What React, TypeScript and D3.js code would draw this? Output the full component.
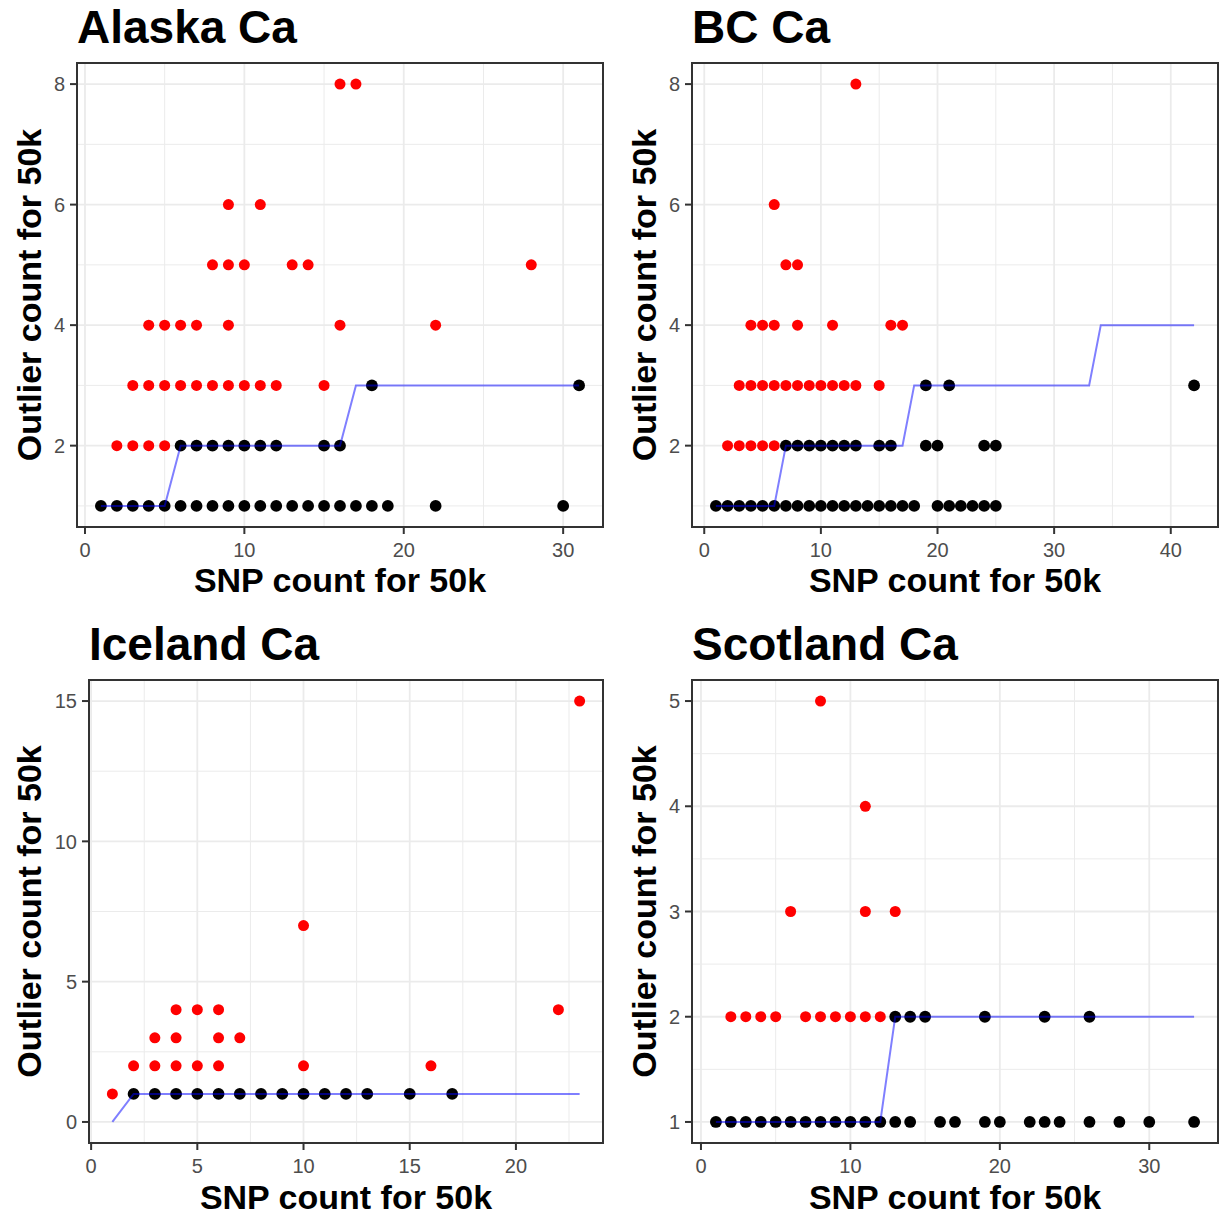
import React from "react";
import * as d3 from "d3";

type P = [number, number];

// ---------- Alaska ----------
const alaskaBlack: P[] = [
  [1,1],[2,1],[3,1],[4,1],[5,1],[6,1],[7,1],[8,1],[9,1],[10,1],[11,1],[12,1],[13,1],[14,1],[15,1],[16,1],[17,1],[18,1],[19,1],[22,1],[30,1],
  [6,2],[7,2],[8,2],[9,2],[10,2],[11,2],[12,2],[15,2],[16,2],
  [18,3],[31,3],
];
const alaskaRed: P[] = [
  [2,2],[3,2],[4,2],[5,2],
  [3,3],[4,3],[5,3],[6,3],[7,3],[8,3],[9,3],[10,3],[11,3],[12,3],[15,3],
  [4,4],[5,4],[6,4],[7,4],[9,4],[16,4],[22,4],
  [8,5],[9,5],[10,5],[13,5],[14,5],[28,5],
  [9,6],[11,6],
  [16,8],[17,8],
];
const alaskaLine: P[] = [[1,1],[5,1],[6,2],[16,2],[17,3],[31,3]];
const alaskaXTicks = [0, 10, 20, 30];
const alaskaYTicks = [2, 4, 6, 8];

// ---------- BC ----------
const bcBlack: P[] = [
  [1,1],[2,1],[3,1],[4,1],[5,1],[6,1],[7,1],[8,1],[9,1],[10,1],[11,1],[12,1],[13,1],[14,1],[15,1],[16,1],[17,1],[18,1],[20,1],[21,1],[22,1],[23,1],[24,1],[25,1],
  [7,2],[8,2],[9,2],[10,2],[11,2],[12,2],[13,2],[15,2],[16,2],[19,2],[20,2],[24,2],[25,2],
  [19,3],[21,3],[42,3],
];
const bcRed: P[] = [
  [2,2],[3,2],[4,2],[5,2],[6,2],
  [3,3],[4,3],[5,3],[6,3],[7,3],[8,3],[9,3],[10,3],[11,3],[12,3],[13,3],[15,3],
  [4,4],[5,4],[6,4],[8,4],[11,4],[16,4],[17,4],
  [7,5],[8,5],
  [6,6],
  [13,8],
];
const bcLine: P[] = [[1,1],[6,1],[7,2],[17,2],[18,3],[33,3],[34,4],[42,4]];
const bcXTicks = [0, 10, 20, 30, 40];
const bcYTicks = [2, 4, 6, 8];

// ---------- Iceland ----------
const icelandBlack: P[] = [
  [2,1],[3,1],[4,1],[5,1],[6,1],[7,1],[8,1],[9,1],[10,1],[11,1],[12,1],[13,1],[15,1],[17,1],
];
const icelandRed: P[] = [
  [1,1],
  [2,2],[3,2],[4,2],[5,2],[6,2],[10,2],[16,2],
  [3,3],[4,3],[6,3],[7,3],
  [4,4],[5,4],[6,4],[22,4],
  [10,7],
  [23,15],
];
const icelandLine: P[] = [[1,0],[2,1],[23,1]];
const icelandXTicks = [0, 5, 10, 15, 20];
const icelandYTicks = [0, 5, 10, 15];

// ---------- Scotland ----------
const scotlandBlack: P[] = [
  [1,1],[2,1],[3,1],[4,1],[5,1],[6,1],[7,1],[8,1],[9,1],[10,1],[11,1],[12,1],[13,1],[14,1],[16,1],[17,1],[19,1],[20,1],[22,1],[23,1],[24,1],[26,1],[28,1],[30,1],[33,1],
  [13,2],[14,2],[15,2],[19,2],[23,2],[26,2],
];
const scotlandRed: P[] = [
  [2,2],[3,2],[4,2],[5,2],[7,2],[8,2],[9,2],[10,2],[11,2],[12,2],
  [6,3],[11,3],[13,3],
  [11,4],
  [8,5],
];
const scotlandLine: P[] = [[1,1],[12,1],[13,2],[33,2]];
const scotlandXTicks = [0, 10, 20, 30];
const scotlandYTicks = [1, 2, 3, 4, 5];

const titles = ["Alaska Ca", "BC Ca", "Iceland Ca", "Scotland Ca"];
const xLabel = "SNP count for 50k";
const yLabel = "Outlier count for 50k";

const FONT = "'Liberation Sans', Arial, Helvetica, sans-serif";

type Rect = { left: number; right: number; top: number; bottom: number };

function expand([a, b]: [number, number]): [number, number] {
  const d = (b - a) * 0.05;
  return [a - d, b + d];
}

function minorTicks(major: number[], dom: [number, number]) {
  const step = major[1] - major[0];
  const out: number[] = [];
  for (let i = -1; i < major.length; i++) {
    const v = (i < 0 ? major[0] - step : major[i]) + step / 2;
    if (v >= dom[0] && v <= dom[1]) out.push(v);
  }
  return out;
}

function Panel(props: {
  title: string;
  black: P[];
  red: P[];
  line: P[];
  xTicks: number[];
  yTicks: number[];
  rect: Rect;
  cellX: number;
  cellY: number;
}) {
  const { title, black, red, line, xTicks, yTicks, rect, cellX, cellY } = props;
  const all = [...black, ...red, ...line];
  const xDom = expand(d3.extent(all, (d) => d[0]) as [number, number]);
  const yDom = expand(d3.extent(all, (d) => d[1]) as [number, number]);
  const x = d3.scaleLinear().domain(xDom).range([rect.left, rect.right]);
  const y = d3.scaleLinear().domain(yDom).range([rect.bottom, rect.top]);
  const xMinor = minorTicks(xTicks, xDom);
  const yMinor = minorTicks(yTicks, yDom);
  const lineGen = d3.line<P>().x((d) => x(d[0])).y((d) => y(d[1]));
  const grid = "#EBEBEB";
  return (
    <g>
      <rect x={rect.left} y={rect.top} width={rect.right - rect.left} height={rect.bottom - rect.top} fill="#fff" />
      {xMinor.map((v) => (
        <line key={"xm" + v} x1={x(v)} x2={x(v)} y1={rect.top} y2={rect.bottom} stroke={grid} strokeWidth={1} />
      ))}
      {yMinor.map((v) => (
        <line key={"ym" + v} y1={y(v)} y2={y(v)} x1={rect.left} x2={rect.right} stroke={grid} strokeWidth={1} />
      ))}
      {xTicks.map((v) => (
        <line key={"xM" + v} x1={x(v)} x2={x(v)} y1={rect.top} y2={rect.bottom} stroke={grid} strokeWidth={1.8} />
      ))}
      {yTicks.map((v) => (
        <line key={"yM" + v} y1={y(v)} y2={y(v)} x1={rect.left} x2={rect.right} stroke={grid} strokeWidth={1.8} />
      ))}
      {black.map((d, i) => (
        <circle key={"b" + i} cx={x(d[0])} cy={y(d[1])} r={5.9} fill="#000" />
      ))}
      {red.map((d, i) => (
        <circle key={"r" + i} cx={x(d[0])} cy={y(d[1])} r={5.5} fill="#FF0000" />
      ))}
      <path d={lineGen(line) || ""} fill="none" stroke="#0000FF" strokeOpacity={0.5} strokeWidth={2} />
      <rect x={rect.left} y={rect.top} width={rect.right - rect.left} height={rect.bottom - rect.top} fill="none" stroke="#333333" strokeWidth={2} />
      {xTicks.map((v) => (
        <g key={"xt" + v}>
          <line x1={x(v)} x2={x(v)} y1={rect.bottom} y2={rect.bottom + 7} stroke="#333333" strokeWidth={2} />
          <text x={x(v)} y={rect.bottom + 30} textAnchor="middle" fontSize={20} fill="#4D4D4D" fontFamily={FONT}>
            {v}
          </text>
        </g>
      ))}
      {yTicks.map((v) => (
        <g key={"yt" + v}>
          <line x1={rect.left - 7} x2={rect.left} y1={y(v)} y2={y(v)} stroke="#333333" strokeWidth={2} />
          <text x={rect.left - 12} y={y(v)} dy="0.36em" textAnchor="end" fontSize={20} fill="#4D4D4D" fontFamily={FONT}>
            {v}
          </text>
        </g>
      ))}
      <text x={rect.left} y={cellY + 43} fontSize={46} fontWeight="bold" fill="#000" fontFamily={FONT}>
        {title}
      </text>
      <text
        x={(rect.left + rect.right) / 2}
        y={cellY + 592}
        textAnchor="middle"
        fontSize={34}
        fontWeight="bold"
        fill="#000"
        fontFamily={FONT}
      >
        {xLabel}
      </text>
      <text
        transform={`translate(${cellX + 41},${(rect.top + rect.bottom) / 2}) rotate(-90)`}
        textAnchor="middle"
        fontSize={34}
        fontWeight="bold"
        fill="#000"
        fontFamily={FONT}
      >
        {yLabel}
      </text>
    </g>
  );
}

export default function App() {
  return (
    <svg
      width={1220}
      height={1215}
      style={{ position: "absolute", left: 0, top: 0, background: "#fff" }}
    >
      <rect x={0} y={0} width={1220} height={1215} fill="#fff" />
      <Panel title={titles[0]} black={alaskaBlack} red={alaskaRed} line={alaskaLine}
        xTicks={alaskaXTicks} yTicks={alaskaYTicks}
        rect={{ left: 77, right: 603, top: 63, bottom: 527 }} cellX={0} cellY={0} />
      <Panel title={titles[1]} black={bcBlack} red={bcRed} line={bcLine}
        xTicks={bcXTicks} yTicks={bcYTicks}
        rect={{ left: 692, right: 1218, top: 63, bottom: 527 }} cellX={615} cellY={0} />
      <Panel title={titles[2]} black={icelandBlack} red={icelandRed} line={icelandLine}
        xTicks={icelandXTicks} yTicks={icelandYTicks}
        rect={{ left: 89, right: 603, top: 680, bottom: 1143 }} cellX={0} cellY={617} />
      <Panel title={titles[3]} black={scotlandBlack} red={scotlandRed} line={scotlandLine}
        xTicks={scotlandXTicks} yTicks={scotlandYTicks}
        rect={{ left: 692, right: 1218, top: 680, bottom: 1143 }} cellX={615} cellY={617} />
    </svg>
  );
}
